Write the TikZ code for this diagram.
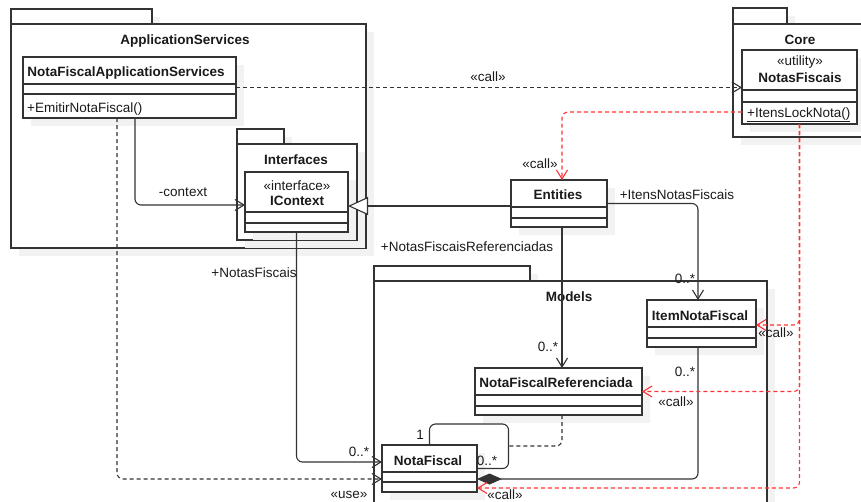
\documentclass[tikz,border=0pt]{standalone}
\usepackage{fontspec}
\setmainfont{Liberation Sans}
\usetikzlibrary{arrows.meta,shadows}
\definecolor{ink}{HTML}{333333}
\definecolor{txt}{HTML}{1A1A1A}
\definecolor{callred}{HTML}{FF3333}
\definecolor{shadegray}{HTML}{F2F2F2}
\tikzset{
  shadowed/.style={drop shadow={shadow xshift=8pt,shadow yshift=-8pt,fill=shadegray,opacity=1}},
  pkgbox/.style={draw=ink,line width=1.1pt,fill=white,shadowed},
  umlbox/.style={draw=ink,line width=1.1pt,fill=white,shadowed,rectangle,inner sep=0pt,outer sep=0pt},
  sepline/.style={draw=ink,line width=1.1pt},
  lbl/.style={anchor=base,inner sep=0pt,text=txt},
  lblw/.style={anchor=base west,inner sep=0pt,text=txt},
  conn/.style={draw=ink,line width=1.1pt,rounded corners=6pt},
  openhead/.style={-{Straight Barb[length=9pt,width=11pt]}},
  dashes/.style={dash pattern=on 4pt off 3pt},
  dep/.style={conn,dashes,openhead},
  reddep/.style={dep,draw=callred},
  generalize/.style={conn,-{Triangle[length=20pt,width=18pt,fill=white]}},
  compose/.style={conn,-{Diamond[length=25pt,width=11pt]}},
}
\begin{document}
\begin{tikzpicture}[x=1pt,y=-1pt,font=\fontsize{13.5}{16}\selectfont]
\useasboundingbox (0,0) rectangle (861,501);
\clip (0,0) rectangle (861,501);

% ---------- packages ----------
\path[pkgbox] (11,9) rectangle (152,24);
\path[pkgbox] (11,24) rectangle (366,248);
\node[lbl] (appsvc-name) at (185,44.5) {\bfseries ApplicationServices};

\path[pkgbox] (733,8) rectangle (787,24);
\path[pkgbox] (733,24) rectangle (890,137);
\node[lbl] (core-name) at (800,44.5) {\bfseries Core};

\path[pkgbox] (374,266) rectangle (530,281);
\path[pkgbox] (374,281) rectangle (767,530);
\node[lbl] (models-name) at (569,301.5) {\bfseries Models};

\path[pkgbox] (237,129) rectangle (284,144);
\path[pkgbox] (237,144) rectangle (357,240);
\node[lbl] (ifaces-name) at (296,164.5) {\bfseries Interfaces};

% ---------- classes ----------
\node[umlbox,minimum width=213pt,minimum height=61pt] (nfas) at (129.5,87.5) {};
\draw[sepline] (23,84) -- (236,84) (23,94) -- (236,94);
\node[lbl] (nfas-name) at (126,76) {\bfseries NotaFiscalApplicationServices};
\node[lblw] (nfas-op) at (27,112.5) {+EmitirNotaFiscal()};

\node[umlbox,minimum width=103pt,minimum height=60pt] (icontext) at (296.5,202) {};
\draw[sepline] (245,212) -- (348,212) (245,223) -- (348,223);
\node[lbl] (icontext-st) at (297,190) {«interface»};
\node[lbl] (icontext-name) at (297,205) {\bfseries IContext};

\node[umlbox,minimum width=115pt,minimum height=74pt] (notas) at (799.5,87) {};
\draw[sepline] (742,90) -- (857,90) (742,102) -- (857,102);
\node[lbl] (notas-st) at (800,65) {«utility»};
\node[lbl] (notas-name) at (800,82.5) {\bfseries NotasFiscais};
\node[lblw] (notas-op) at (747,117.5) {\underline{+ItensLockNota()}};

\node[umlbox,minimum width=96pt,minimum height=47pt] (entities) at (559,203.5) {};
\draw[sepline] (511,207) -- (607,207) (511,218) -- (607,218);
\node[lbl] (entities-name) at (558,199) {\bfseries Entities};

\node[umlbox,minimum width=109pt,minimum height=47pt] (item) at (701.5,323.5) {};
\draw[sepline] (647,327) -- (756,327) (647,338) -- (756,338);
\node[lbl] (item-name) at (700,320) {\bfseries ItemNotaFiscal};

\node[umlbox,minimum width=167pt,minimum height=47pt] (nfr) at (558.5,391.5) {};
\draw[sepline] (475,395) -- (642,395) (475,406) -- (642,406);
\node[lbl] (nfr-name) at (556,387.5) {\bfseries NotaFiscalReferenciada};

\node[umlbox,minimum width=95pt,minimum height=47pt] (nf) at (429.5,468.5) {};
\draw[sepline] (382,472) -- (477,472) (382,482) -- (477,482);
\node[lbl] (nf-name) at (428,465) {\bfseries NotaFiscal};

% ---------- connectors ----------
\draw[conn,openhead] ([xshift=5.5pt]nfas.south) |- ([yshift=-3pt]icontext.west);
\node[lbl] (l-context) at (183,196.5) {-context};

\draw[dep] (nfas.east) -- (nfas.east -| notas.west);
\node[lbl] (l-call1) at (488,81.5) {«call»};

\draw[dep] ([xshift=-12.5pt]nfas.south) |- ([yshift=-10.5pt]nf.west);
\node[lbl] (l-use) at (349,498.5) {«use»};

\draw[conn,openhead] (icontext.south) |- ([yshift=6.5pt]nf.west);
\node[lbl] (l-nfs) at (254,277) {+NotasFiscais};
\node[lbl] (m-nfs) at (359,456.5) {0..*};

\coordinate (g1) at ([yshift=-2.5pt]entities.west);
\draw[generalize] (g1) -- (g1 -| icontext.east);

\draw[reddep] ([yshift=-25pt]notas.west) -| ([xshift=3pt]entities.north);
\node[lbl] (l-call2) at (540,168) {«call»};

\draw[conn,openhead] (entities.east) -| ([xshift=-3.5pt]item.north);
\node[lbl] (l-items) at (677,199) {+ItensNotasFiscais};
\node[lbl] (m-items) at (685,283) {0..*};

\coordinate (e2) at ([xshift=3pt]entities.south);
\draw[conn,openhead] (e2) -- (e2 |- nfr.north);
\node[lbl] (l-refs) at (467,251.5) {+NotasFiscaisReferenciadas};
\node[lbl] (m-refs) at (548,351) {0..*};

\draw[compose] ([xshift=-3.5pt]item.south) |- ([yshift=-10.5pt]nf.east);
\node[lbl] (m-comp) at (685,376) {0..*};

\draw[conn] (nf.north) -- ++(0,-21) -- ++(79,0) |- (nf.east);
\node[lbl] (m-self1) at (420,439.5) {1};
\node[lbl] (m-self2) at (487,465) {0..*};

\coordinate (ac) at (508.5,446);
\draw[conn,dashes] (e2 |- nfr.south) |- (ac);

\draw[reddep] (notas.south) |- ([yshift=-1.5pt]item.east);
\node[lbl] (l-call3) at (776,337.5) {«call»};
\draw[reddep] (notas.south) |- (nfr.east);
\node[lbl] (l-call4) at (676,406) {«call»};
\draw[reddep] (notas.south) |- ([yshift=-19.5pt]nf.east);
\node[lbl] (l-call5) at (505,499) {«call»};
\end{tikzpicture}
\end{document}
